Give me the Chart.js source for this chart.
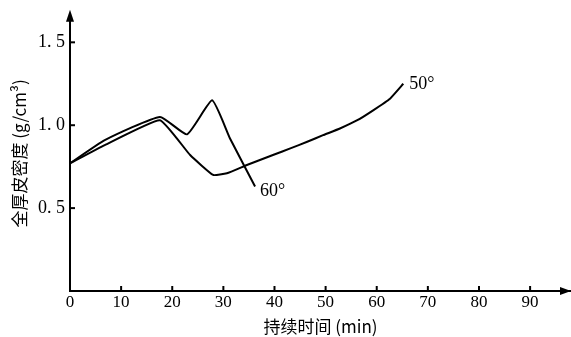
<!DOCTYPE html>
<html>
<head>
<meta charset="utf-8">
<script src="https://cdn.jsdelivr.net/npm/chart.js@4.4.1/dist/chart.umd.min.js"></script>
<style>
    html, body { margin: 0; padding: 0; background: #fff; }
    #wrap { width: 571px; height: 337px; }
</style>
</head>
<body>
<div id="wrap"><canvas id="chartDensity"></canvas></div>
<script>
// data
const time50 = [0, 6.8, 17.6, 23.5, 28, 30.7, 34.6, 39.7, 43.1, 46.4, 49.5, 52.8, 56.2, 59.3, 62.6, 65.2];
const dens50 = [0.77, 0.88, 1.03, 0.82, 0.70, 0.71, 0.76, 0.82, 0.86, 0.90, 0.94, 0.98, 1.03, 1.09, 1.16, 1.25];
const time60 = [0, 6.8, 17.6, 22.9, 27.8, 31.3, 36.2];
const dens60 = [0.77, 0.91, 1.05, 0.945, 1.15, 0.92, 0.63];
const seriesNames = ['50°', '60°'];
const xTicks = [0, 10, 20, 30, 40, 50, 60, 70, 80, 90];
const yTicks = [0.5, 1.0, 1.5];

const serif = "'Liberation Serif', 'DejaVu Serif', serif";

function toPoints(xs, ys) {
    return xs.map((x, i) => ({ x: x, y: ys[i] }));
}

// tick marks pointing inward, arrows, curve labels
const axisExtras = {
    id: 'axisExtras',
    afterDraw(chart) {
        const ctx = chart.ctx;
        const area = chart.chartArea;
        const xs = chart.scales.x;
        const ys = chart.scales.y;
        ctx.save();
        ctx.strokeStyle = '#000';
        ctx.fillStyle = '#000';
        ctx.lineWidth = 2;
        xTicks.forEach(v => {
            if (v === 0) return;
            const px = xs.getPixelForValue(v);
            ctx.beginPath();
            ctx.moveTo(px, area.bottom);
            ctx.lineTo(px, area.bottom - 5);
            ctx.stroke();
        });
        yTicks.forEach(v => {
            const py = ys.getPixelForValue(v);
            ctx.beginPath();
            ctx.moveTo(area.left, py);
            ctx.lineTo(area.left + 5, py);
            ctx.stroke();
        });
        // arrow heads
        ctx.beginPath();
        ctx.moveTo(area.left, area.top - 6);
        ctx.lineTo(area.left - 4, area.top + 6);
        ctx.lineTo(area.left + 4, area.top + 6);
        ctx.closePath();
        ctx.fill();
        ctx.beginPath();
        ctx.moveTo(area.right, area.bottom);
        ctx.lineTo(area.right - 11, area.bottom - 4);
        ctx.lineTo(area.right - 11, area.bottom + 4);
        ctx.closePath();
        ctx.fill();

        // series labels next to the curve ends
        ctx.font = '18px ' + serif;
        ctx.textBaseline = 'middle';
        ctx.textAlign = 'left';
        const offsets = [[6, 0], [5, 5]];
        chart.data.datasets.forEach((ds, i) => {
            const last = ds.data[ds.data.length - 1];
            const px = xs.getPixelForValue(last.x);
            const py = ys.getPixelForValue(last.y);
            ctx.fillText(ds.label, px + offsets[i][0], py + offsets[i][1]);
        });
        ctx.restore();
    }
};

document.addEventListener('DOMContentLoaded', () => {
    const ctx = document.getElementById('chartDensity').getContext('2d');
    new Chart(ctx, {
        type: 'scatter',
        data: {
            datasets: [{
                label: seriesNames[0],
                data: toPoints(time50, dens50),
                showLine: true,
                borderColor: '#000',
                borderWidth: 2,
                pointRadius: 0,
                tension: 0.12
            },
            {
                label: seriesNames[1],
                data: toPoints(time60, dens60),
                showLine: true,
                borderColor: '#000',
                borderWidth: 2,
                pointRadius: 0,
                tension: 0.15
            }]
        },
        options: {
            responsive: true,
            maintainAspectRatio: false,
            animation: false,
            layout: { padding: { top: 10, right: 0, left: 0, bottom: 0 } },
            plugins: {
                legend: { display: false },
                tooltip: { enabled: false }
            },
            scales: {
                x: {
                    type: 'linear',
                    min: 0,
                    max: 98,
                    afterBuildTicks: scale => {
                        scale.ticks = xTicks.map(v => ({ value: v }));
                    },
                    afterFit: scale => { scale.height = 46; },
                    grid: { display: false, drawTicks: false },
                    border: { display: true, color: '#000', width: 2 },
                    ticks: {
                        color: '#000',
                        padding: 1,
                        maxRotation: 0,
                        font: { family: serif, size: 17 }
                    },
                    title: {
                        display: true,
                        text: '持续时间 (min)',
                        color: '#000',
                        padding: { top: 0, bottom: 0 },
                        font: { family: "'Noto Sans CJK SC', " + serif, size: 17 }
                    }
                },
                y: {
                    type: 'linear',
                    min: 0,
                    max: 1.66,
                    afterBuildTicks: scale => {
                        scale.ticks = yTicks.map(v => ({ value: v }));
                    },
                    afterFit: scale => { scale.width = 70; },
                    grid: { display: false, drawTicks: false },
                    border: { display: true, color: '#000', width: 2 },
                    ticks: {
                        color: '#000',
                        padding: 5,
                        font: { family: serif, size: 18 },
                        callback: v => v.toFixed(1).replace('.', '. ')
                    },
                    title: {
                        display: true,
                        text: '全厚皮密度 (g/cm³)',
                        color: '#000',
                        padding: { top: 9, bottom: 0 },
                        font: { family: "'Noto Sans CJK SC', " + serif, size: 17 }
                    }
                }
            }
        },
        plugins: [axisExtras]
    });
});
</script>
</body>
</html>
